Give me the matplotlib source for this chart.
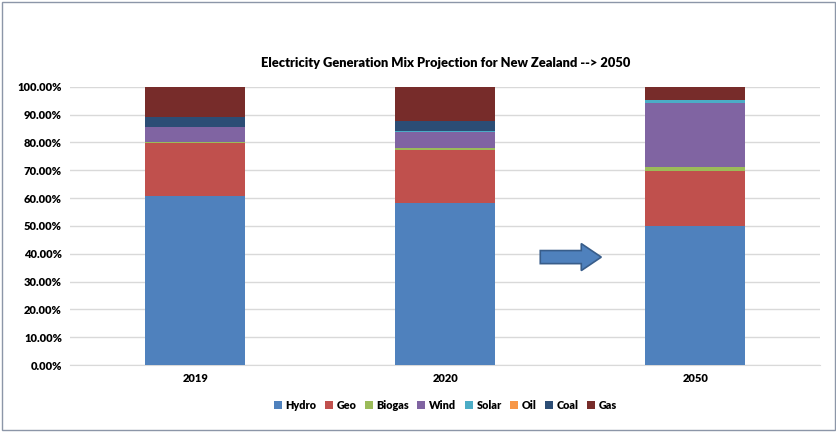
import numpy as np
import matplotlib.pyplot as plt
from matplotlib.patches import FancyArrow, Rectangle
from matplotlib.ticker import PercentFormatter

plt.rcParams["font.family"] = ["Lato", "DejaVu Sans"]

years = ["2019", "2020", "2050"]
sources = ["Hydro", "Geo", "Biogas", "Wind", "Solar", "Oil", "Coal", "Gas"]

# share of generation, percent
hydro = [60.8, 58.4, 50.0]
geo = [18.9, 19.0, 19.9]
biogas = [0.5, 0.6, 1.3]
wind = [5.3, 5.6, 22.9]
solar = [0.2, 0.6, 1.0]
oil = [0.0, 0.0, 0.0]
coal = [3.3, 3.5, 0.2]
gas = [11.0, 12.3, 4.7]

colors = ["#4f81bd", "#c0504d", "#9bbb59", "#8064a2", "#4bacc6", "#f79646", "#2c4d75", "#772c2a"]

fig = plt.figure(figsize=(8.37, 4.32), dpi=100)
ax = fig.add_axes([0.084, 0.155, 0.896, 0.644])

x = np.arange(len(years))
bottom = np.zeros(len(years))
for name, vals, c in zip(sources, [hydro, geo, biogas, wind, solar, oil, coal, gas], colors):
    ax.bar(x, vals, 0.4, bottom=bottom, color=c, label=name, zorder=3)
    bottom += np.array(vals)

ax.set_xlim(-0.5, 2.5)
ax.set_ylim(0, 100)
ax.set_yticks(np.arange(0, 101, 10))
ax.yaxis.set_major_formatter(PercentFormatter(decimals=2))
ax.set_xticks(x)
ax.set_xticklabels(years)
ax.grid(axis="y", color="#d9d9d9", lw=1, zorder=0)
for s in ["top", "right", "left"]:
    ax.spines[s].set_visible(False)
ax.spines["bottom"].set_color("#d9d9d9")
ax.tick_params(axis="both", length=0, labelsize=8, pad=6)
for lbl in ax.get_xticklabels() + ax.get_yticklabels():
    lbl.set_fontweight("heavy")

ax.set_title("Electricity Generation Mix Projection for New Zealand --> 2050",
             fontsize=9.3, fontweight="heavy", pad=14)

ax.legend(loc="upper center", bbox_to_anchor=(0.5, -0.09), ncol=8, frameon=False,
          prop={"size": 7.8, "weight": "heavy"}, handlelength=0.75, handleheight=0.75,
          columnspacing=0.75, handletextpad=0.35)

# block arrow between 2020 and 2050
arrow = FancyArrow(1.38, 38.8, 0.244, 0, width=4.7, head_width=9.7, head_length=0.08,
                   length_includes_head=True, facecolor="#4f81bd", edgecolor="#385d8a",
                   lw=1.2, zorder=4)
ax.add_patch(arrow)

fig.patches.append(Rectangle((0.002, 0.004), 0.996, 0.992, transform=fig.transFigure,
                             fill=False, edgecolor="#8c96a8", lw=1))

fig.savefig("out.png", dpi=100)
